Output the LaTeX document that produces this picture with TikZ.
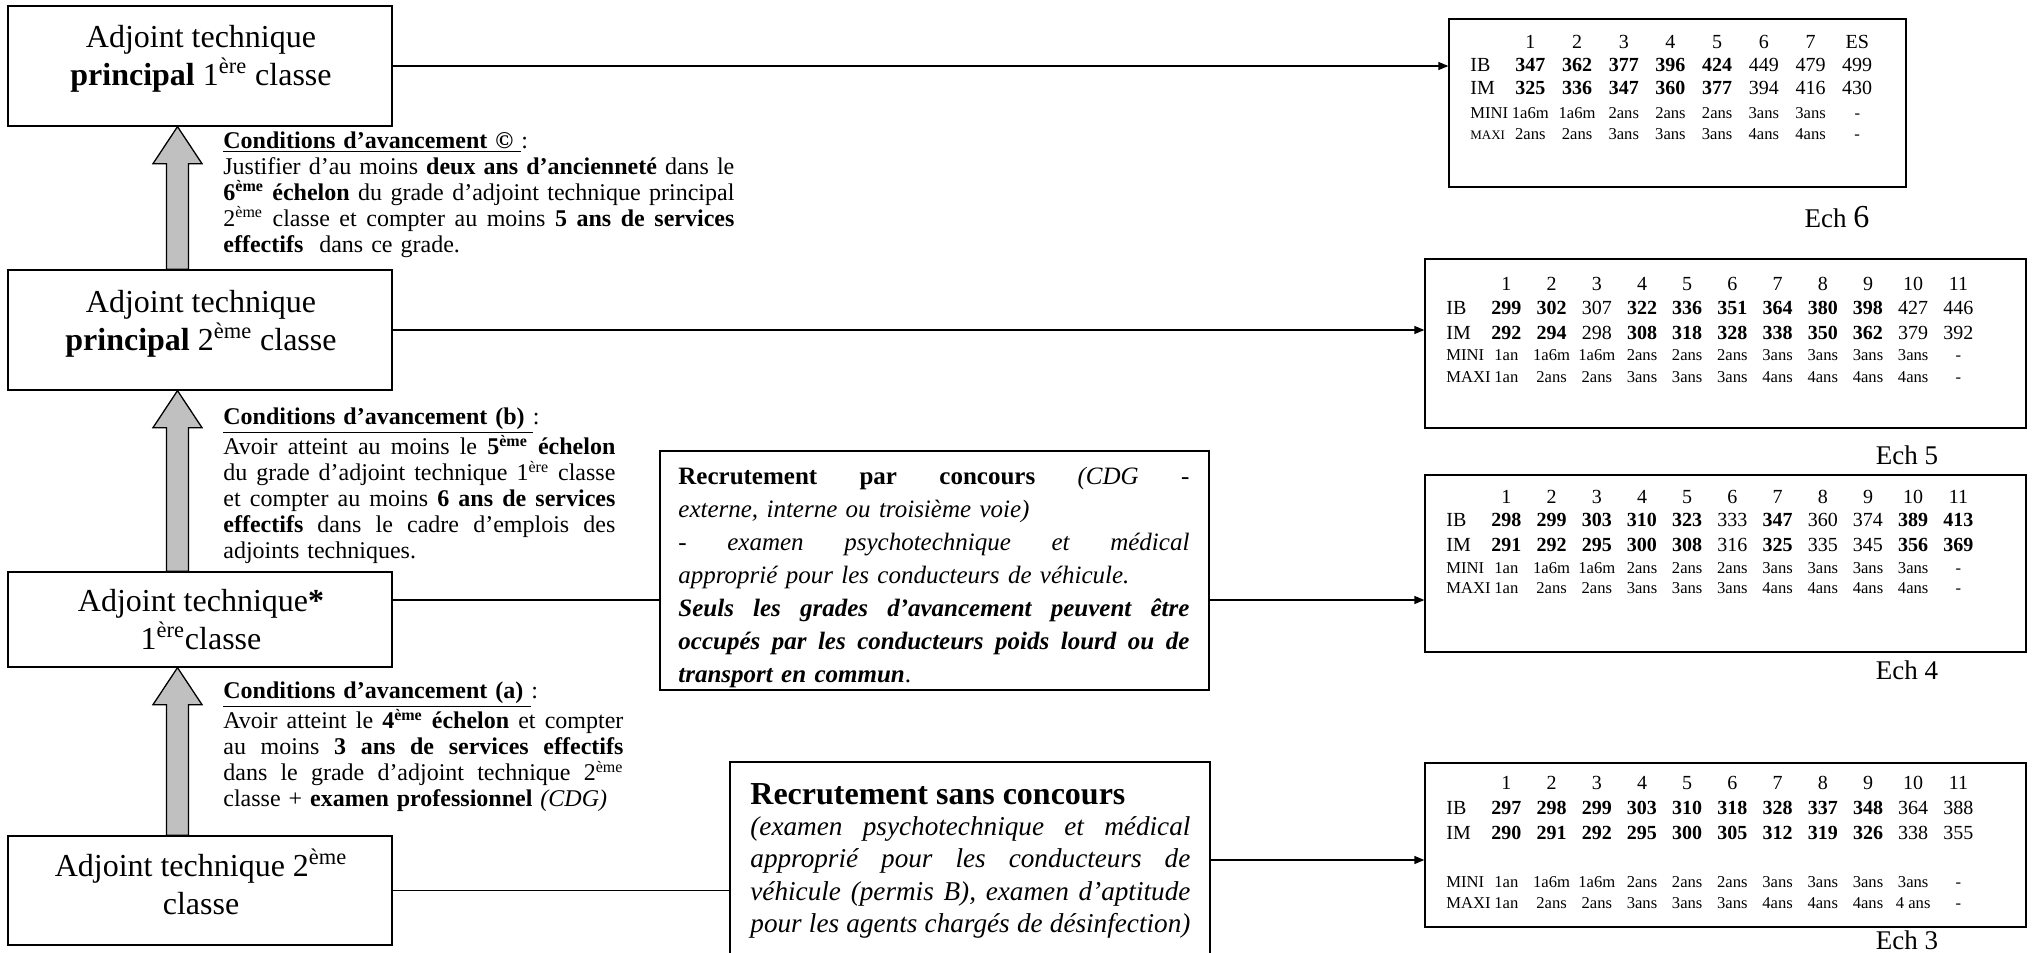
\documentclass[tikz,border=0pt]{standalone}
\usepackage{fontspec}
\setmainfont{Liberation Serif}
\usetikzlibrary{arrows.meta,calc}
\definecolor{agray}{RGB}{192,192,192}
\newlength\cw
\newlength\lw
\newlength\jw
\newcommand\tc[1]{\makebox[\cw][c]{#1}}
\newcommand\tb[1]{\makebox[\cw][c]{\textbf{#1}}}
\newcommand\lab[1]{\makebox[\lw][l]{#1}}
\newcommand\jl[1]{\makebox[\jw][s]{\spaceskip=.25em plus 1fil\xspaceskip=.25em plus 1fil\relax #1}}
\setlength\lineskiplimit{-20pt}
\setlength\lineskip{0pt}
\newcommand\gradearrow[2]{%
  \draw[garrow] ($(#1.south)+(-22.5,0)$) -- ++(24.5,37) -- ++(-13.5,0)
    -- ($(#2.north)+(-11.5,0)$) -- ++(-22,0)
    -- ($(#1.south)+(-33.5,37)$) -- ++(-13.5,0) -- cycle;}
\begin{document}
\begin{tikzpicture}[x=0.5pt,y=-0.5pt,
  gbox/.style={draw, line width=0.65pt, minimum width=192pt, inner sep=0},
  gtext/.style={align=center, inner sep=0, font=\fontsize{16}{19}\selectfont},
  cond/.style={anchor=north west, inner sep=0, align=left, font=\fontsize{12}{13}\selectfont},
  jw/.style={text width=#1, execute at begin node={\setlength\jw{#1}}},
  tbox/.style={draw, line width=0.65pt, inner sep=0},
  rowA/.style={anchor=west, inner sep=0, font=\fontsize{10}{12}\selectfont},
  rowB/.style={anchor=west, inner sep=0, font=\fontsize{8.3}{10}\selectfont},
  ech/.style={inner sep=0, font=\fontsize{13.5}{16}\selectfont},
  conn/.style={line width=0.65pt, -{Triangle[length=5pt,width=4pt]}},
  wire/.style={line width=0.65pt},
  garrow/.style={draw, line width=0.65pt, fill=agray, line join=miter},
  ta/.style={execute at begin node={\setlength\cw{23.35pt}\setlength\lw{18.3pt}}},
  tz/.style={execute at begin node={\setlength\cw{22.6pt}\setlength\lw{18.7pt}}},
]
\useasboundingbox (0,0) rectangle (2036,953);
\clip (0,0) rectangle (2036,953);

% grade boxes
\node[gbox, minimum height=60pt] (g1) at (200,66) {};
\node[gtext] (g1t) at (201,59) {Adjoint technique\\\textbf{principal} 1\textsuperscript{ère} classe};
\node[gbox, minimum height=60pt] (g2) at (200,330) {};
\node[gtext] (g2t) at (201,324) {Adjoint technique\\\textbf{principal} 2\textsuperscript{ème} classe};
\node[gbox, minimum height=47.5pt] (g3) at (200,619.5) {};
\node[gtext] (g3t) at (201,620) {Adjoint technique\textbf{*}\\1\textsuperscript{ère}classe};
\node[gbox, minimum height=54.5pt] (g4) at (200,890.5) {};
\node[gtext] (g4t) at (201,882) {Adjoint technique 2\textsuperscript{ème}\\classe};

% gray promotion arrows
\gradearrow{g1}{g2}
\gradearrow{g2}{g3}
\gradearrow{g3}{g4}

% conditions
\node[cond, jw=255.5pt] (cc) at (223,131) {%
\underline{\textbf{Conditions d’avancement ©}~}:\\
\jl{Justifier d’au moins \textbf{deux ans d’ancienneté} dans le}\\
\jl{\textbf{6\textsuperscript{ème} échelon} du grade d’adjoint technique principal}\\
\jl{2\textsuperscript{ème} classe et compter au moins \textbf{5 ans de services}}\\
\textbf{effectifs}\ \ dans ce grade.};
\node[cond, jw=196pt] (cb) at (223,407) {%
\underline{\textbf{Conditions d’avancement (b)}~}:\\
\jl{Avoir atteint au moins le \textbf{5\textsuperscript{ème} échelon}}\\
\jl{du grade d’adjoint technique 1\textsuperscript{ère} classe}\\
\jl{et compter au moins \textbf{6 ans de services}}\\
\jl{\textbf{effectifs} dans le cadre d’emplois des}\\
adjoints techniques.};
\node[cond, jw=200pt] (ca) at (223,681) {%
\underline{\textbf{Conditions d’avancement (a)}~}:\\
\jl{Avoir atteint le \textbf{4\textsuperscript{ème} échelon} et compter}\\
\jl{au moins \textbf{3 ans de services effectifs}}\\
\jl{dans le grade d’adjoint technique 2\textsuperscript{ème}}\\
classe + \textbf{examen professionnel} \textit{(CDG)}};

% recruitment boxes
\node[tbox, minimum width=274.5pt, minimum height=119.5pt] (conc) at (934.5,570.5) {};
\node[anchor=north west, inner sep=0, align=left, jw=255.5pt,
      font=\fontsize{12.5}{16.5}\selectfont] (concT) at (678,467) {%
\jl{\textbf{Recrutement par concours} \textit{(CDG -}}\\
\textit{externe, interne ou troisième voie)}\\
\jl{\textit{- examen psychotechnique et médical}}\\
\textit{approprié pour les conducteurs de véhicule.}\\
\jl{\textbf{\textit{Seuls les grades d’avancement peuvent être}}}\\
\jl{\textbf{\textit{occupés par les conducteurs poids lourd ou de}}}\\
\textbf{\textit{transport en commun}}.};

\node[tbox, minimum width=240pt, minimum height=109pt] (sans) at (970,871) {};
\node[anchor=west, inner sep=0, font=\fontsize{16}{19}\selectfont\bfseries] (sansH) at (750,794) {Recrutement sans concours};
\node[anchor=north west, inner sep=0, align=left, jw=220pt,
      font=\fontsize{13.6}{16.25}\selectfont\itshape] (sansT) at (750,816) {%
\jl{(examen psychotechnique et médical}\\
\jl{approprié pour les conducteurs de}\\
\jl{véhicule (permis B), examen d’aptitude}\\
\jl{pour les agents chargés de désinfection)}};

% table Ech 6
\node[tbox, minimum width=228.5pt, minimum height=84pt] (t1) at (1677.5,103) {};
\node[rowA, ta] (t1h) at (1470,42) {\lab{}\tc{1}\tc{2}\tc{3}\tc{4}\tc{5}\tc{6}\tc{7}\tc{ES}};
\node[rowA, ta] (t1ib) at (1470,65) {\lab{IB}\tb{347}\tb{362}\tb{377}\tb{396}\tb{424}\tc{449}\tc{479}\tc{499}};
\node[rowA, ta] (t1im) at (1470,88) {\lab{IM}\tb{325}\tb{336}\tb{347}\tb{360}\tb{377}\tc{394}\tc{416}\tc{430}};
\node[rowB, ta] (t1mi) at (1470,113) {\lab{MINI}\tc{1a6m}\tc{1a6m}\tc{2ans}\tc{2ans}\tc{2ans}\tc{3ans}\tc{3ans}\tc{-}};
\node[rowB, ta] (t1ma) at (1470,134) {\lab{\fontsize{6.5}{8}\selectfont MAXI}\tc{2ans}\tc{2ans}\tc{3ans}\tc{3ans}\tc{3ans}\tc{4ans}\tc{4ans}\tc{-}};
\node[ech] (e6) at (1837,217) {Ech {\fontsize{16}{16}\selectfont 6}};

% table Ech 5
\node[tbox, minimum width=300.5pt, minimum height=84.5pt] (t2) at (1725.5,343.5) {};
\node[rowA, tz] (t2h) at (1446,284) {\lab{}\tc{1}\tc{2}\tc{3}\tc{4}\tc{5}\tc{6}\tc{7}\tc{8}\tc{9}\tc{10}\tc{11}};
\node[rowA, tz] (t2ib) at (1446,308) {\lab{IB}\tb{299}\tb{302}\tc{307}\tb{322}\tb{336}\tb{351}\tb{364}\tb{380}\tb{398}\tc{427}\tc{446}};
\node[rowA, tz] (t2im) at (1446,333) {\lab{IM}\tb{292}\tb{294}\tc{298}\tb{308}\tb{318}\tb{328}\tb{338}\tb{350}\tb{362}\tc{379}\tc{392}};
\node[rowB, tz] (t2mi) at (1446,355) {\lab{MINI}\tc{1an}\tc{1a6m}\tc{1a6m}\tc{2ans}\tc{2ans}\tc{2ans}\tc{3ans}\tc{3ans}\tc{3ans}\tc{3ans}\tc{-}};
\node[rowB, tz] (t2ma) at (1446,377) {\lab{MAXI}\tc{1an}\tc{2ans}\tc{2ans}\tc{3ans}\tc{3ans}\tc{3ans}\tc{4ans}\tc{4ans}\tc{4ans}\tc{4ans}\tc{-}};
\node[ech] (e5) at (1907,455) {Ech 5};

% table Ech 4
\node[tbox, minimum width=300.5pt, minimum height=88.5pt] (t3) at (1725.5,563.5) {};
\node[rowA, tz] (t3h) at (1446,497) {\lab{}\tc{1}\tc{2}\tc{3}\tc{4}\tc{5}\tc{6}\tc{7}\tc{8}\tc{9}\tc{10}\tc{11}};
\node[rowA, tz] (t3ib) at (1446,520) {\lab{IB}\tb{298}\tb{299}\tb{303}\tb{310}\tb{323}\tc{333}\tb{347}\tc{360}\tc{374}\tb{389}\tb{413}};
\node[rowA, tz] (t3im) at (1446,545) {\lab{IM}\tb{291}\tb{292}\tb{295}\tb{300}\tb{308}\tc{316}\tb{325}\tc{335}\tc{345}\tb{356}\tb{369}};
\node[rowB, tz] (t3mi) at (1446,568) {\lab{MINI}\tc{1an}\tc{1a6m}\tc{1a6m}\tc{2ans}\tc{2ans}\tc{2ans}\tc{3ans}\tc{3ans}\tc{3ans}\tc{3ans}\tc{-}};
\node[rowB, tz] (t3ma) at (1446,588) {\lab{MAXI}\tc{1an}\tc{2ans}\tc{2ans}\tc{3ans}\tc{3ans}\tc{3ans}\tc{4ans}\tc{4ans}\tc{4ans}\tc{4ans}\tc{-}};
\node[ech] (e4) at (1907,670) {Ech 4};

% table Ech 3
\node[tbox, minimum width=300.5pt, minimum height=82pt] (t4) at (1725.5,845) {};
\node[rowA, tz] (t4h) at (1446,783) {\lab{}\tc{1}\tc{2}\tc{3}\tc{4}\tc{5}\tc{6}\tc{7}\tc{8}\tc{9}\tc{10}\tc{11}};
\node[rowA, tz] (t4ib) at (1446,808) {\lab{IB}\tb{297}\tb{298}\tb{299}\tb{303}\tb{310}\tb{318}\tb{328}\tb{337}\tb{348}\tc{364}\tc{388}};
\node[rowA, tz] (t4im) at (1446,833) {\lab{IM}\tb{290}\tb{291}\tb{292}\tb{295}\tb{300}\tb{305}\tb{312}\tb{319}\tb{326}\tc{338}\tc{355}};
\node[rowB, tz] (t4mi) at (1446,882) {\lab{MINI}\tc{1an}\tc{1a6m}\tc{1a6m}\tc{2ans}\tc{2ans}\tc{2ans}\tc{3ans}\tc{3ans}\tc{3ans}\tc{3ans}\tc{-}};
\node[rowB, tz] (t4ma) at (1446,903) {\lab{MAXI}\tc{1an}\tc{2ans}\tc{2ans}\tc{3ans}\tc{3ans}\tc{3ans}\tc{4ans}\tc{4ans}\tc{4ans}\tc{4 ans}\tc{-}};
\node[ech] (e3) at (1907,940) {Ech 3};

% connectors
\coordinate (y3) at (0,600);
\coordinate (y4) at (0,860);
\draw[conn] (g1.east) -- (g1.east -| t1.west);
\draw[conn] (g2.east) -- (g2.east -| t2.west);
\draw[wire] (g3.east |- y3) -- (conc.west |- y3);
\draw[conn] (conc.east |- y3) -- (t3.west |- y3);
\draw[wire] (g4.east) -- (sans.west |- g4.east);
\draw[conn] (sans.east |- y4) -- (t4.west |- y4);
\end{tikzpicture}
\end{document}
